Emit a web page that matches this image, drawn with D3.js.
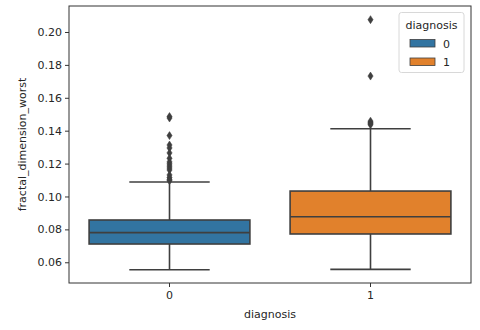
<!DOCTYPE html>
<html>
<head>
<meta charset="utf-8">
<script src="https://cdn.jsdelivr.net/npm/d3@7"></script>
<style>
  body { margin: 0; background: #fff; }
  svg { display: block; font-family: "DejaVu Sans", sans-serif; }
</style>
</head>
<body>
<svg id="chart" width="480" height="330"></svg>
<script>
// ---- data ----
const categories = ["0", "1"];
const q1 = [0.0711, 0.0772];
const median = [0.0780, 0.0877];
const q3 = [0.0857, 0.1033];
const whiskerLow = [0.0555, 0.0557];
const whiskerHigh = [0.1088, 0.1412];
const outliers0 = [0.1486, 0.1477, 0.1370, 0.1313, 0.1295, 0.1265, 0.1232, 0.1210, 0.1198, 0.1185, 0.1173, 0.1161, 0.1131, 0.1115, 0.1104, 0.1096];
const outliers1 = [0.2075, 0.1732, 0.1458, 0.1450, 0.1443, 0.1436];
const outliers = [outliers0, outliers1];
const colors = ["#3274a1", "#e1812c"];
const yTicks = [0.06, 0.08, 0.10, 0.12, 0.14, 0.16, 0.18, 0.20];
const legendTitle = "diagnosis";
const xLabel = "diagnosis";
const yLabel = "fractal_dimension_worst";

// ---- layout ----
const svg = d3.select("#chart");
const L = 69, R = 471, T = 6, B = 283;
const lineColor = "#3f3f3f";
const fontSize = 11;

const x = d3.scaleBand().domain(categories).range([L, R]).paddingInner(0).paddingOuter(0);
const y = d3.scaleLinear().domain([0.0474, 0.2158]).range([B, T]);

const boxW = x.bandwidth() * 0.8;
const capW = boxW * 0.5;

// boxes
categories.forEach((c, i) => {
  const cx = x(c) + x.bandwidth() / 2;
  const g = svg.append("g");
  // whiskers
  g.append("line").attr("x1", cx).attr("x2", cx).attr("y1", y(q3[i])).attr("y2", y(whiskerHigh[i]))
    .attr("stroke", lineColor).attr("stroke-width", 1.6);
  g.append("line").attr("x1", cx).attr("x2", cx).attr("y1", y(q1[i])).attr("y2", y(whiskerLow[i]))
    .attr("stroke", lineColor).attr("stroke-width", 1.6);
  // caps
  [whiskerHigh[i], whiskerLow[i]].forEach(v => {
    g.append("line").attr("x1", cx - capW / 2).attr("x2", cx + capW / 2).attr("y1", y(v)).attr("y2", y(v))
      .attr("stroke", lineColor).attr("stroke-width", 1.6);
  });
  // box
  g.append("rect").attr("x", cx - boxW / 2).attr("width", boxW)
    .attr("y", y(q3[i])).attr("height", y(q1[i]) - y(q3[i]))
    .attr("fill", colors[i]).attr("stroke", lineColor).attr("stroke-width", 1.6);
  // median
  g.append("line").attr("x1", cx - boxW / 2).attr("x2", cx + boxW / 2).attr("y1", y(median[i])).attr("y2", y(median[i]))
    .attr("stroke", lineColor).attr("stroke-width", 1.6);
  // outliers (thin diamonds)
  outliers[i].forEach(v => {
    const py = y(v);
    g.append("path").attr("d", `M${cx},${py - 4}L${cx + 2.6},${py}L${cx},${py + 4}L${cx - 2.6},${py}Z`)
      .attr("fill", lineColor).attr("stroke", lineColor).attr("stroke-width", 0.5);
  });
});

// axes
const yAxis = d3.axisLeft(y).tickValues(yTicks).tickFormat(d3.format(".2f")).tickSize(4).tickPadding(3);
const yg = svg.append("g").attr("transform", `translate(${L},0)`).call(yAxis);
yg.select(".domain").remove();
yg.selectAll("line").attr("stroke", "#333");
yg.selectAll("text").attr("font-size", fontSize).attr("fill", "#262626").attr("font-family", "DejaVu Sans");

const xAxis = d3.axisBottom(x).tickSize(4).tickPadding(4);
const xg = svg.append("g").attr("transform", `translate(0,${B})`).call(xAxis);
xg.select(".domain").remove();
xg.selectAll("line").attr("stroke", "#333");
xg.selectAll("text").attr("font-size", fontSize).attr("fill", "#262626").attr("font-family", "DejaVu Sans");

// frame
svg.append("rect").attr("x", L).attr("y", T).attr("width", R - L).attr("height", B - T)
  .attr("fill", "none").attr("stroke", "#333").attr("stroke-width", 1);

// labels
svg.append("text").attr("x", (L + R) / 2).attr("y", 318).attr("text-anchor", "middle")
  .attr("font-size", fontSize).attr("fill", "#262626").text(xLabel);
svg.append("text").attr("transform", `translate(26,${(T + B) / 2}) rotate(-90)`).attr("text-anchor", "middle")
  .attr("font-size", fontSize).attr("fill", "#262626").text(yLabel);

// legend
const lg = svg.append("g");
lg.append("rect").attr("x", 399).attr("y", 12.5).attr("width", 65).attr("height", 60).attr("rx", 2.5)
  .attr("fill", "#fff").attr("fill-opacity", 0.8).attr("stroke", "#d8d8d8").attr("stroke-width", 1);
lg.append("text").attr("x", 431.5).attr("y", 29).attr("text-anchor", "middle")
  .attr("font-size", fontSize).attr("fill", "#262626").text(legendTitle);
categories.forEach((c, i) => {
  const yy = 39.5 + i * 18.5;
  lg.append("rect").attr("x", 410).attr("y", yy).attr("width", 25).attr("height", 7.5)
    .attr("fill", colors[i]).attr("stroke", lineColor).attr("stroke-width", 0.8);
  lg.append("text").attr("x", 443).attr("y", yy + 8).attr("font-size", fontSize).attr("fill", "#262626").text(c);
});
</script>
</body>
</html>
